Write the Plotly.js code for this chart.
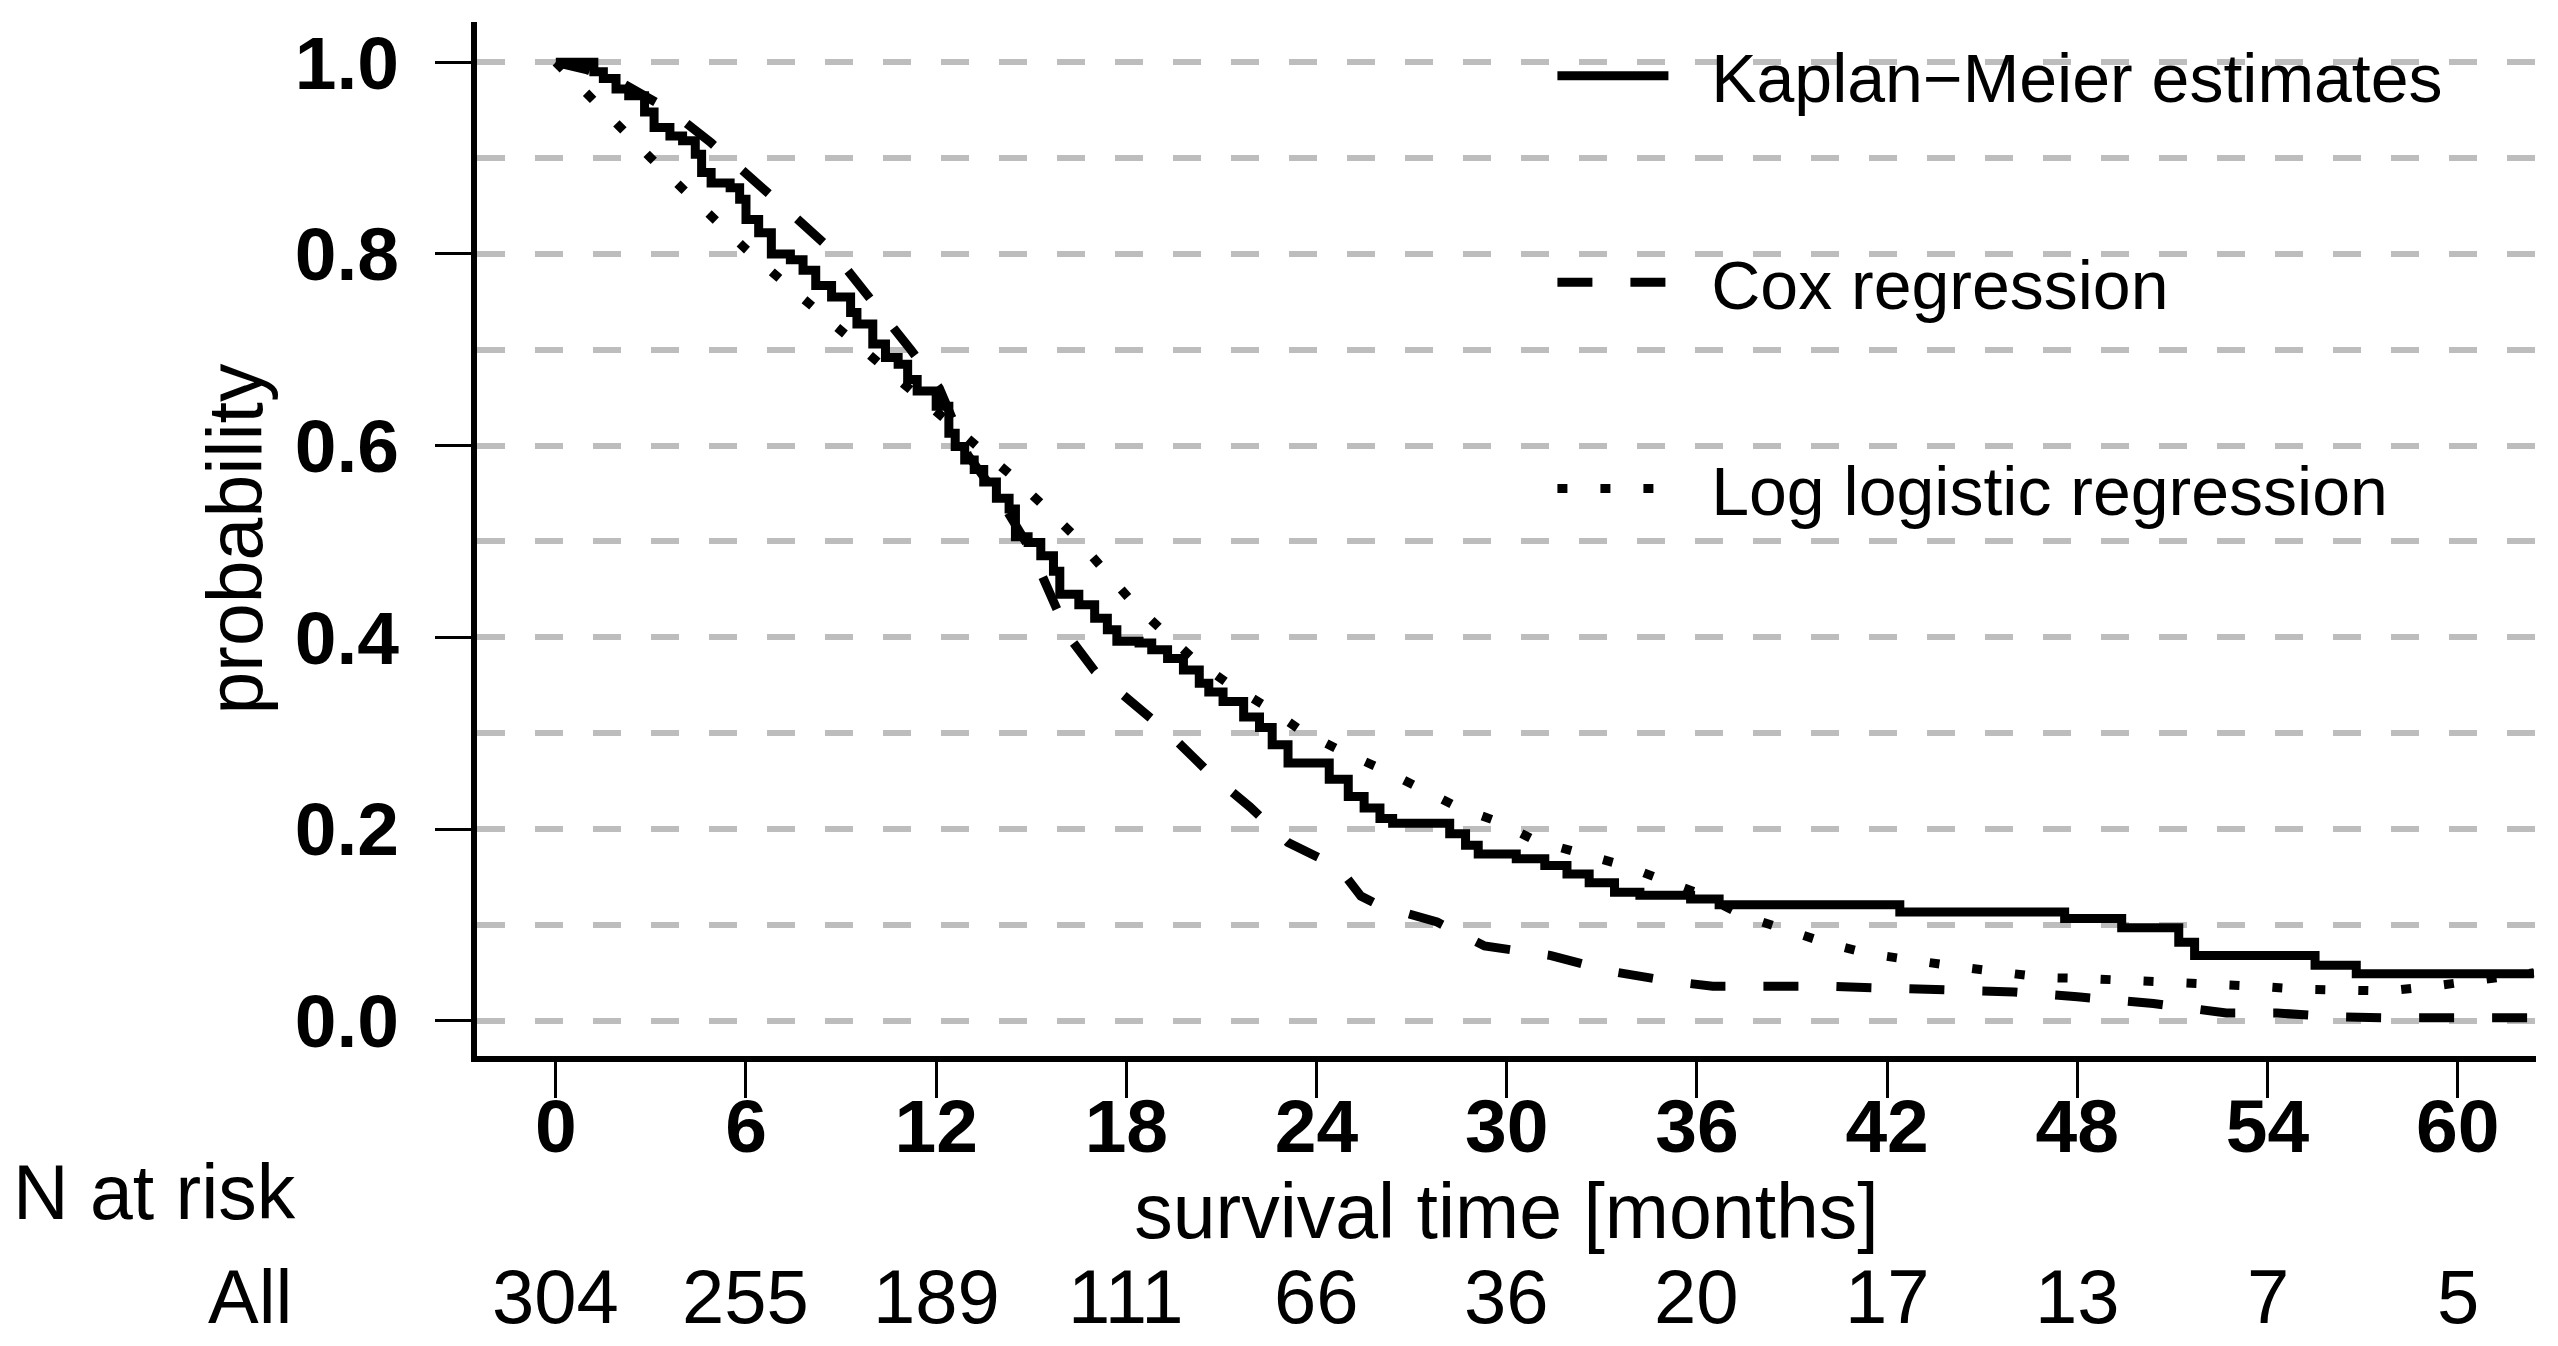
<!DOCTYPE html>
<html>
<head>
<meta charset="utf-8">
<script src="https://cdn.plot.ly/plotly-3.0.1.min.js"></script>
<style>html,body{margin:0;padding:0;background:#fff;}#chart{width:2558px;height:1346px;}</style>
</head>
<body>
<div id="chart"></div>
<script>
// Kaplan-Meier step function (time, survival)
const kmTime = [0, 1.2, 1.5, 1.9, 2.3, 2.8, 3.1, 3.6, 4.0, 4.4, 4.6, 4.9, 5.5, 5.8, 6.0, 6.4, 6.8, 7.4, 7.8, 8.2, 8.7, 9.3, 9.5, 10.0, 10.4, 10.8, 11.1, 11.4, 12.0, 12.4, 12.6, 12.9, 13.2, 13.5, 13.9, 14.3, 14.5, 14.9, 15.3, 15.7, 15.9, 16.5, 17.0, 17.4, 17.7, 18.4, 18.8, 19.3, 19.8, 20.3, 20.6, 21.05, 21.7, 22.2, 22.6, 23.1, 24.4, 25.0, 25.5, 26.0, 26.4, 28.2, 28.7, 29.1, 30.3, 31.2, 31.9, 32.6, 33.4, 34.2, 35.8, 36.7, 42.4, 47.6, 49.4, 51.2, 51.7, 55.5, 56.8, 62.4];
const kmSurv = [1.0, 0.99, 0.983, 0.972, 0.965, 0.948, 0.932, 0.923, 0.918, 0.904, 0.885, 0.874, 0.869, 0.857, 0.836, 0.822, 0.80, 0.794, 0.783, 0.767, 0.755, 0.739, 0.727, 0.706, 0.692, 0.685, 0.669, 0.657, 0.641, 0.613, 0.599, 0.585, 0.575, 0.562, 0.545, 0.534, 0.505, 0.499, 0.485, 0.469, 0.445, 0.434, 0.42, 0.408, 0.396, 0.394, 0.387, 0.378, 0.366, 0.352, 0.343, 0.333, 0.317, 0.306, 0.288, 0.269, 0.252, 0.234, 0.222, 0.211, 0.206, 0.195, 0.183, 0.174, 0.169, 0.162, 0.153, 0.144, 0.134, 0.131, 0.127, 0.121, 0.1135, 0.1066, 0.097, 0.082, 0.068, 0.058, 0.049, 0.049];

// Cox regression predicted survival
const coxTime = [0, 1.0, 2.0, 3.6, 4.9, 6.0, 7.3, 8.7, 10.2, 11.2, 12.1, 13.0, 14.0, 15.0, 15.4, 16.2, 17.0, 18.2, 19.4, 20.6, 21.9, 23.1, 24.7, 25.4, 26.0, 27.8, 29.3, 31.4, 33.2, 35.2, 36.5, 40.0, 42.0, 44.0, 46.0, 48.0, 50.4, 52.7, 54.3, 56.2, 58.0, 62.4];
const coxSurv = [1.0, 0.992, 0.98, 0.95, 0.916, 0.885, 0.846, 0.804, 0.743, 0.70, 0.66, 0.59, 0.545, 0.49, 0.46, 0.40, 0.365, 0.331, 0.298, 0.259, 0.223, 0.186, 0.16, 0.13, 0.12, 0.103, 0.078, 0.068, 0.052, 0.041, 0.036, 0.036, 0.034, 0.030, 0.030, 0.025, 0.018, 0.008, 0.008, 0.004, 0.003, 0.003];

// Log logistic regression predicted survival
const llTime = [0, 1, 2, 3, 4, 5, 6, 7, 8, 9, 10, 11, 12, 13.2, 14.3, 15.3, 16.3, 17.2, 18.1, 19.1, 20.1, 21.2, 22.5, 23.5, 24.8, 26.1, 27.2, 28.5, 29.7, 30.9, 32.4, 33.7, 35.0, 36.2, 37.5, 38.8, 40.1, 41.4, 42.7, 44.1, 45.5, 47.0, 48.3, 49.6, 50.9, 52.5, 53.7, 55.0, 56.4, 57.8, 59.2, 60.6, 62.4];
const llSurv = [1.0, 0.966, 0.934, 0.90, 0.868, 0.836, 0.805, 0.776, 0.748, 0.72, 0.69, 0.662, 0.633, 0.60, 0.571, 0.54, 0.508, 0.474, 0.44, 0.408, 0.378, 0.352, 0.326, 0.303, 0.281, 0.262, 0.243, 0.222, 0.208, 0.188, 0.174, 0.162, 0.146, 0.131, 0.109, 0.094, 0.081, 0.07, 0.063, 0.057, 0.051, 0.045, 0.044, 0.042, 0.042, 0.039, 0.036, 0.033, 0.031, 0.031, 0.036, 0.042, 0.05];

// Numbers at risk
const riskTimes = [0, 6, 12, 18, 24, 30, 36, 42, 48, 54, 60];
const riskCounts = [304, 255, 189, 111, 66, 36, 20, 17, 13, 7, 5];

const seriesNames = ["Kaplan\u2212Meier estimates", "Cox regression", "Log logistic regression"];
const yTickVals = [0, 0.2, 0.4, 0.6, 0.8, 1.0];

const FONT = "Liberation Sans, Arial, Helvetica, sans-serif";
const PAD = "\u00a0\u00a0";

const traces = [
  {x: kmTime, y: kmSurv, name: PAD + seriesNames[0], type: "scatter", mode: "lines",
   line: {color: "#000", width: 9, shape: "hv"}, legendgroup: "a"},
  {x: coxTime, y: coxSurv, name: PAD + seriesNames[1], type: "scatter", mode: "lines",
   line: {color: "#000", width: 9, dash: "35px,38px"}, legendgroup: "b"},
  {x: llTime, y: llSurv, name: PAD + seriesNames[2], type: "scatter", mode: "lines",
   line: {color: "#000", width: 9, dash: "10px,33px"}, legendgroup: "c"}
];

const annotations = [
  {text: "N at risk", xref: "paper", yref: "paper", x: -0.0869, y: -0.1315,
   xanchor: "right", yanchor: "middle", showarrow: false, font: {family: FONT, size: 77, color: "#000"}},
  {text: "All", xref: "paper", yref: "paper", x: -0.0889, y: -0.233,
   xanchor: "right", yanchor: "middle", showarrow: false, font: {family: FONT, size: 76, color: "#000"}}
];
riskTimes.forEach((t, i) => {
  annotations.push({text: String(riskCounts[i]), xref: "x", yref: "paper", x: t, y: -0.233,
    xanchor: "center", yanchor: "middle", showarrow: false, font: {family: FONT, size: 76, color: "#000"}});
});

const gridStyle = {gridcolor: "#bdbdbd", gridwidth: 6, griddash: "28px,30px"};

const layout = {
  width: 2558, height: 1346,
  margin: {l: 477, r: 22, t: 22, b: 290, pad: 0},
  paper_bgcolor: "#fff", plot_bgcolor: "#fff",
  font: {family: FONT, color: "#000"},
  showlegend: true,
  legend: {x: 0.5223, y: 0.997, xanchor: "left", yanchor: "top", bgcolor: "rgba(0,0,0,0)",
    font: {family: FONT, size: 68, color: "#000"}, tracegroupgap: 115, itemwidth: 111},
  xaxis: {
    range: [-2.486, 62.47], tickmode: "array", tickvals: riskTimes, ticktext: riskTimes.map(String),
    showgrid: false, zeroline: false, showline: true, linecolor: "#000", linewidth: 6,
    ticks: "outside", ticklen: 36, tickwidth: 3, tickcolor: "#000", ticklabelstandoff: -36,
    tickfont: {family: FONT, size: 75, weight: "bold", color: "#000"},
    title: {text: "survival time [months]", font: {family: FONT, size: 77, color: "#000"}, standoff: 0},
    automargin: false, fixedrange: true
  },
  yaxis: {
    range: [-0.0368, 1.042], tickmode: "array", tickvals: yTickVals, tickformat: ".1f",
    showgrid: true, gridcolor: gridStyle.gridcolor, gridwidth: gridStyle.gridwidth, griddash: gridStyle.griddash,
    minor: {dtick: 0.1, tick0: 0, showgrid: true, gridcolor: gridStyle.gridcolor, gridwidth: gridStyle.gridwidth, griddash: gridStyle.griddash, ticks: ""},
    zeroline: false, showline: true, linecolor: "#000", linewidth: 6,
    ticks: "outside", ticklen: 36, tickwidth: 3, tickcolor: "#000", ticklabelstandoff: 21,
    tickfont: {family: FONT, size: 75, weight: "bold", color: "#000"},
    title: {text: "probability", font: {family: FONT, size: 77, color: "#000"}, standoff: 9},
    automargin: false, fixedrange: true
  },
  annotations: annotations
};

Plotly.newPlot("chart", traces, layout, {displayModeBar: false, staticPlot: true});
</script>
</body>
</html>
